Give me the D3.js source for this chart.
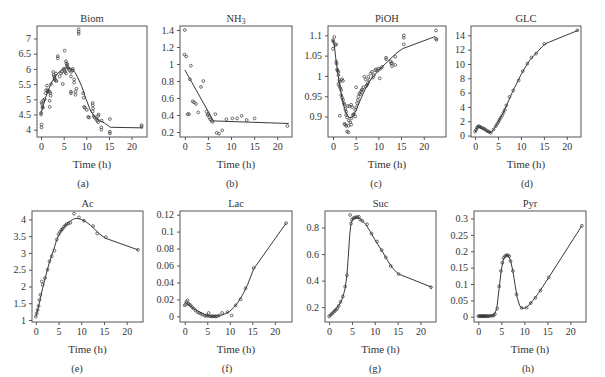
<!DOCTYPE html>
<html>
<head>
<meta charset="utf-8">
<script src="https://cdn.jsdelivr.net/npm/d3@7"></script>
<style>
  body { margin: 0; background: #fff; }
  svg text { font-family: "Liberation Serif", "Times New Roman", Times, serif; fill: #333; font-weight: normal; }
</style>
</head>
<body>
<div id="chart"></div>
<script>
// ---- data ----
const xTicks = [0, 5, 10, 15, 20];

// (a) Biom
const biomT = [0.1,0.1,0,0,0.1,0.2,0.3,0.4,0.5,0.8,1.0,1.1,1.3,1.5,1.5,1.9,1.9,1.9,2.1,2.1,2.2,2.7,2.8,2.9,3.0,3.0,3.2,3.4,3.3,3.7,3.7,4.1,4.4,4.6,4.8,5.0,5.2,5.3,5.5,5.2,5.5,5.6,5.7,5.8,5.9,6.1,6.3,6.6,6.6,7.0,7.0,6.6,6.6,7.3,7.3,7.6,7.8,7.6,8.3,8.3,8.3,9.3,9.4,9.5,9.7,10.1,10.4,10.6,11.4,11.4,11.5,11.4,11.6,11.8,12.2,12.4,12.6,12.7,12.6,13.3,13.3,13.4,15.2,15.2,15.2,22.2,22.2];
const biomV = [4.17,4.07,4.55,4.5,4.9,4.85,4.75,4.72,4.97,5.0,5.2,5.3,5.45,5.3,5.25,4.95,4.75,5.25,5.2,5.12,5.5,5.9,5.8,5.75,5.7,5.65,5.62,5.6,5.85,6.42,6.35,5.75,5.85,5.9,5.5,6.0,5.95,5.9,5.85,6.6,6.25,6.18,6.1,6.15,6.05,6.0,5.95,5.9,5.75,6.0,5.95,5.25,5.2,5.55,5.65,5.25,5.35,5.15,7.3,7.22,7.15,5.2,5.05,4.75,4.72,4.65,4.42,4.4,4.88,4.8,4.7,4.6,4.45,4.4,4.35,4.3,4.25,4.5,4.45,4.08,4.0,4.3,4.35,3.93,3.88,4.15,4.1];
const biomFitT = [0,0.5,1,1.5,2,2.5,3,4,5,6,6.5,7,7.5,8,9,10,11,12,13,14,15.3,22.5];
const biomFitV = [4.55,4.8,5.05,5.25,5.45,5.6,5.72,5.9,6.02,6.04,6.02,5.97,5.88,5.75,5.42,4.98,4.6,4.4,4.3,4.22,4.08,4.06];
const biomTicks = [4, 4.5, 5, 5.5, 6, 6.5, 7];
const biomLabels = ["4", "4.5", "5", "5.5", "6", "6.5", "7"];

// (b) NH3
const nh3T = [0,-0.1,0.3,1.3,1.1,4.0,3.5,1.7,2.0,2.4,0.6,0.9,2.9,4.7,4.9,5.1,5.3,5.5,5.8,6.0,6.6,6.9,7.4,8.1,9.0,10.3,11.3,12.3,13.4,15.1,22.2];
const nh3V = [1.4,1.11,1.09,0.98,0.82,0.8,0.73,0.56,0.55,0.53,0.41,0.41,0.43,0.44,0.4,0.41,0.37,0.35,0.33,0.32,0.41,0.19,0.18,0.22,0.35,0.36,0.36,0.39,0.34,0.36,0.27];
const nh3FitT = [0, 6.2, 22.5];
const nh3FitV = [0.93, 0.33, 0.30];
const nh3Ticks = [0.2, 0.4, 0.6, 0.8, 1, 1.2, 1.4];
const nh3Labels = ["0.2", "0.4", "0.6", "0.8", "1", "1.2", "1.4"];

// (c) PiOH
const piohT = [0,0.1,0,0.3,0.5,0.7,0.7,0.8,0.9,1.0,1.2,1.2,1.4,1.5,1.2,1.4,1.6,1.8,2.0,2.2,1.5,1.8,2.0,2.2,2.4,2.5,2.7,2.9,2.9,3.1,2.5,2.7,2.9,3.1,3.4,3.2,3.6,4.0,4.2,3.5,3.8,4.0,3.4,4.1,4.4,4.6,4.9,5.1,4.9,5.3,5.5,5.6,5.1,5.8,6.0,6.2,6.3,6.5,6.7,6.9,7.2,7.3,7.5,7.7,7.8,8.0,8.3,8.6,8.8,9.0,9.3,9.5,9.9,10.0,10.3,10.5,10.8,11.7,11.7,12.7,12.8,13.0,13.0,13.7,13.7,15.6,15.6,15.6,22.7,22.7,22.8];
const piohV = [1.088,1.084,1.067,1.096,1.076,1.078,1.035,1.03,1.016,1.013,1.002,1.01,0.99,0.985,0.98,0.975,0.97,0.965,0.992,0.988,0.902,0.953,0.947,0.941,0.933,0.929,0.919,0.912,0.904,0.898,0.882,0.88,0.877,0.863,0.861,0.926,0.925,0.929,0.923,0.89,0.886,0.88,0.877,0.896,0.904,0.906,0.916,0.923,0.9,0.933,0.941,0.949,0.972,0.957,0.955,0.961,0.965,0.967,0.972,0.998,0.991,0.975,0.978,0.983,0.998,0.99,1.006,1.01,0.996,1.002,1.014,1.016,1.013,1.018,0.994,1.018,1.022,1.045,1.041,1.036,1.031,1.024,1.032,1.047,1.027,1.1,1.094,1.078,1.112,1.092,1.089];
const piohFitT = [0,0.3,0.6,1,1.5,2,2.5,3,3.5,4,4.5,5,6,7,8,9,10,11,12,13,14,15.3,22.5];
const piohFitV = [1.09,1.075,1.045,1.012,0.975,0.945,0.922,0.906,0.898,0.897,0.903,0.913,0.94,0.965,0.986,1.0,1.013,1.024,1.035,1.046,1.056,1.067,1.097];
const piohTicks = [0.9, 0.95, 1, 1.05, 1.1];
const piohLabels = ["0.9", "0.95", "1", "1.05", "1.1"];

// (d) GLC
const glcT = [0,0.2,0.4,0.6,0.8,1.0,1.3,1.6,1.9,2.2,2.5,2.8,3.1,3.4,4.0,4.5,4.8,5.1,5.3,5.6,5.9,6.2,6.5,6.8,7.5,8.3,9.5,10.4,11.4,12.3,13.3,15.1,22.3];
const glcV = [0.55,0.8,1.1,1.25,1.3,1.25,1.15,1.05,0.95,0.85,0.7,0.6,0.5,0.4,0.85,1.3,1.6,1.9,2.2,2.5,2.8,3.2,3.6,4.2,5.4,6.3,7.7,9.0,10.05,10.9,11.45,12.8,14.7];
const glcFitT = [0,0.3,0.6,0.9,1.3,2,2.5,3,3.5,4,4.5,5,6,7,8,9,10,11,12,13,15.2,22.5];
const glcFitV = [0.5,0.85,1.15,1.2,1.1,0.85,0.65,0.5,0.4,0.8,1.3,1.9,3.0,4.4,5.9,7.2,8.5,9.6,10.6,11.3,12.8,14.7];
const glcTicks = [0, 2, 4, 6, 8, 10, 12, 14];
const glcLabels = ["0", "2", "4", "6", "8", "10", "12", "14"];

// (e) Ac
const acT = [0,0.2,0.4,0.6,0.8,1.0,1.3,1.5,2.0,2.6,3.0,3.5,4.1,4.6,5.0,5.3,5.6,5.9,6.2,6.5,6.8,7.2,7.6,8.4,9.5,10.6,12.6,13.5,15.4,22.5];
const acV = [1.1,1.2,1.3,1.42,1.6,1.75,2.15,2.05,2.25,2.5,2.75,2.9,3.07,3.4,3.55,3.62,3.68,3.72,3.78,3.82,3.86,3.88,3.9,4.17,4.06,3.96,3.8,3.58,3.47,3.09];
const acFitT = [0,0.5,1,1.5,2,2.5,3,3.5,4,4.5,5,5.5,6,6.5,7,7.5,8,8.5,9,9.5,10,11,12,13,14,15.3,22.5];
const acFitV = [1.1,1.35,1.65,1.95,2.22,2.48,2.72,2.93,3.12,3.35,3.52,3.64,3.74,3.82,3.89,3.94,3.99,4.02,4.03,4.02,4.0,3.93,3.83,3.7,3.57,3.44,3.09];
const acTicks = [1, 1.5, 2, 2.5, 3, 3.5, 4];
const acLabels = ["1", "1.5", "2", "2.5", "3", "3.5", "4"];

// (f) Lac
const lacT = [0,0.2,0.4,0.6,0.8,1.0,1.3,1.6,2.0,2.4,2.8,3.2,3.6,4.0,4.5,4.8,5.1,5.3,5.6,5.9,6.2,6.5,6.8,7.1,7.6,8.3,9.5,10.4,11.3,12.4,13.5,15.3,22.5];
const lacV = [0.013,0.014,0.017,0.019,0.015,0.014,0.013,0.011,0.009,0.007,0.005,0.004,0.003,0.002,0.0005,0.001,0.0005,0.004,0,0,0,0,0,0,0.001,0.004,0.005,0.001,0.013,0.02,0.033,0.057,0.11];
const lacFitT = [0,1,2,3,4,5,6,7,8,9,10,11,12,13,14,15.3,22.5];
const lacFitV = [0.017,0.013,0.009,0.006,0.003,0.001,0.0002,0.0003,0.001,0.003,0.006,0.011,0.018,0.027,0.038,0.056,0.11];
const lacTicks = [0, 0.02, 0.04, 0.06, 0.08, 0.1, 0.12];
const lacLabels = ["0", "0.02", "0.04", "0.06", "0.08", "0.1", "0.12"];

// (g) Suc
const sucT = [0,0.3,0.6,0.9,1.2,1.5,1.8,2.1,2.5,3.0,3.5,3.9,4.6,4.8,5.0,5.3,5.6,5.9,6.2,6.5,6.8,7.3,8.3,9.3,10.5,11.5,12.4,13.5,15.2,22.3];
const sucV = [0.13,0.14,0.15,0.16,0.17,0.18,0.19,0.21,0.24,0.28,0.355,0.44,0.895,0.83,0.86,0.87,0.875,0.878,0.878,0.882,0.86,0.85,0.825,0.755,0.695,0.63,0.575,0.51,0.45,0.35];
const sucFitT = [0,1,2,2.5,3,3.5,3.9,4.2,4.5,4.8,5.1,5.5,6,6.5,7,8,9,10,11,12,13,14,15.2,22.5];
const sucFitV = [0.13,0.165,0.205,0.235,0.275,0.34,0.44,0.58,0.74,0.83,0.86,0.872,0.875,0.872,0.86,0.825,0.77,0.71,0.655,0.6,0.54,0.49,0.45,0.35];
const sucTicks = [0.2, 0.4, 0.6, 0.8];
const sucLabels = ["0.2", "0.4", "0.6", "0.8"];

// (h) Pyr
const pyrT = [0,0.2,0.4,0.6,0.8,1.0,1.2,1.4,1.6,1.8,2.0,2.3,2.6,3.0,3.3,3.6,4.1,4.5,4.9,5.2,5.5,5.8,6.1,6.4,6.7,7.0,7.5,8.3,9.4,10.5,11.4,12.4,13.5,15.3,22.5];
const pyrV = [0.002,0.002,0.002,0.002,0.002,0.002,0.002,0.002,0.002,0.002,0.002,0.002,0.003,0.003,0.004,0.008,0.025,0.093,0.14,0.165,0.18,0.185,0.188,0.188,0.185,0.17,0.14,0.068,0.027,0.028,0.042,0.058,0.08,0.12,0.278];
const pyrFitT = [0,2,3,3.5,4,4.5,5,5.5,6,6.5,7,7.5,8,8.5,9,9.5,10,10.5,11,12,13,14,15.3,22.5];
const pyrFitV = [0.002,0.002,0.003,0.007,0.025,0.085,0.145,0.178,0.188,0.187,0.172,0.14,0.095,0.055,0.033,0.026,0.026,0.029,0.036,0.052,0.071,0.092,0.12,0.278];
const pyrTicks = [0, 0.05, 0.1, 0.15, 0.2, 0.25, 0.3];
const pyrLabels = ["0", "0.05", "0.1", "0.15", "0.2", "0.25", "0.3"];

// ---- panels ----
const panels = [
  { title: "Biom", sub: "", tag: "(a)", t: biomT, v: biomV, ft: biomFitT, fv: biomFitV, yt: biomTicks, yl: biomLabels,
    box: [37, 147, 26, 137], xd: [-0.9, 23.4], yd: [3.76, 7.41], tagX: 83 },
  { title: "NH", sub: "3", tag: "(b)", t: nh3T, v: nh3V, ft: nh3FitT, fv: nh3FitV, yt: nh3Ticks, yl: nh3Labels,
    box: [180, 292, 26, 137], xd: [-1.05, 23.2], yd: [0.141, 1.447], tagX: 232 },
  { title: "PiOH", sub: "", tag: "(c)", t: piohT, v: piohV, ft: piohFitT, fv: piohFitV, yt: piohTicks, yl: piohLabels,
    box: [328, 446, 26, 137], xd: [-1.1, 24.9], yd: [0.8495, 1.123], tagX: 376 },
  { title: "GLC", sub: "", tag: "(d)", t: glcT, v: glcV, ft: glcFitT, fv: glcFitV, yt: glcTicks, yl: glcLabels,
    box: [471, 581, 26, 137], xd: [-0.9, 23.1], yd: [-0.2, 15.3], tagX: 527 },
  { title: "Ac", sub: "", tag: "(e)", t: acT, v: acV, ft: acFitT, fv: acFitV, yt: acTicks, yl: acLabels,
    box: [32, 143, 211, 322], xd: [-0.85, 23.6], yd: [0.94, 4.25], tagX: 77 },
  { title: "Lac", sub: "", tag: "(f)", t: lacT, v: lacV, ft: lacFitT, fv: lacFitV, yt: lacTicks, yl: lacLabels,
    box: [180, 292, 211, 322], xd: [-1.05, 23.8], yd: [-0.0067, 0.1243], tagX: 227 },
  { title: "Suc", sub: "", tag: "(g)", t: sucT, v: sucV, ft: sucFitT, fv: sucFitV, yt: sucTicks, yl: sucLabels,
    box: [325, 436, 211, 322], xd: [-0.9, 23.4], yd: [0.088, 0.925], tagX: 375 },
  { title: "Pyr", sub: "", tag: "(h)", t: pyrT, v: pyrV, ft: pyrFitT, fv: pyrFitV, yt: pyrTicks, yl: pyrLabels,
    box: [474, 586, 211, 322], xd: [-0.95, 23.4], yd: [-0.016, 0.323], tagX: 528 }
];

const serif = "'Liberation Serif', 'Times New Roman', Times, serif";

const svg = d3.select("#chart")
  .append("svg")
  .attr("width", 605)
  .attr("height", 377)
  .attr("font-family", serif);

svg.append("rect").attr("width", 605).attr("height", 377).attr("fill", "#fff");

panels.forEach(function (p) {
  const [x0, x1, y0, y1] = p.box;
  const x = d3.scaleLinear().domain(p.xd).range([x0, x1]);
  const y = d3.scaleLinear().domain(p.yd).range([y1, y0]);
  const g = svg.append("g");

  // fitted curve
  const pts = p.ft.map(function (d, i) { return [d, p.fv[i]]; });
  g.append("path")
    .datum(pts)
    .attr("fill", "none")
    .attr("stroke", "#222")
    .attr("stroke-width", 0.9)
    .attr("d", d3.line().x(d => x(d[0])).y(d => y(d[1])));

  // measured points
  const obs = p.t.map(function (d, i) { return { t: d, v: p.v[i] }; });
  g.selectAll("circle")
    .data(obs)
    .join("circle")
    .attr("cx", d => x(d.t))
    .attr("cy", d => y(d.v))
    .attr("r", 1.4)
    .attr("fill", "none")
    .attr("stroke", "#333")
    .attr("stroke-width", 0.7);

  // frame
  g.append("rect")
    .attr("x", x0).attr("y", y0)
    .attr("width", x1 - x0).attr("height", y1 - y0)
    .attr("fill", "none")
    .attr("stroke", "#555")
    .attr("stroke-width", 1);

  // axes
  const xa = g.append("g")
    .attr("transform", `translate(0,${y1})`)
    .call(d3.axisBottom(x).tickValues(xTicks).tickSize(3).tickPadding(3));
  const ya = g.append("g")
    .attr("transform", `translate(${x0},0)`)
    .call(d3.axisLeft(y).tickValues(p.yt).tickSize(3).tickPadding(3)
      .tickFormat(function (d, i) { return p.yl[i]; }));
  [xa, ya].forEach(function (a) {
    a.attr("font-family", serif);
    a.select(".domain").remove();
    a.selectAll("line").attr("stroke", "#555");
    a.selectAll("text").attr("font-size", 10);
  });

  const cx = (x0 + x1) / 2;
  const title = g.append("text")
    .attr("x", cx).attr("y", y0 - 4)
    .attr("text-anchor", "middle")
    .attr("font-size", 10.5)
    .text(p.title);
  if (p.sub) {
    title.append("tspan").attr("font-size", 7.5).attr("dy", 2).text(p.sub);
  }

  g.append("text")
    .attr("x", cx).attr("y", y1 + 31)
    .attr("text-anchor", "middle")
    .attr("font-size", 11)
    .text("Time (h)");

  g.append("text")
    .attr("x", p.tagX).attr("y", y1 + 50)
    .attr("text-anchor", "middle")
    .attr("font-size", 10.5)
    .text(p.tag);
});
</script>
</body>
</html>
